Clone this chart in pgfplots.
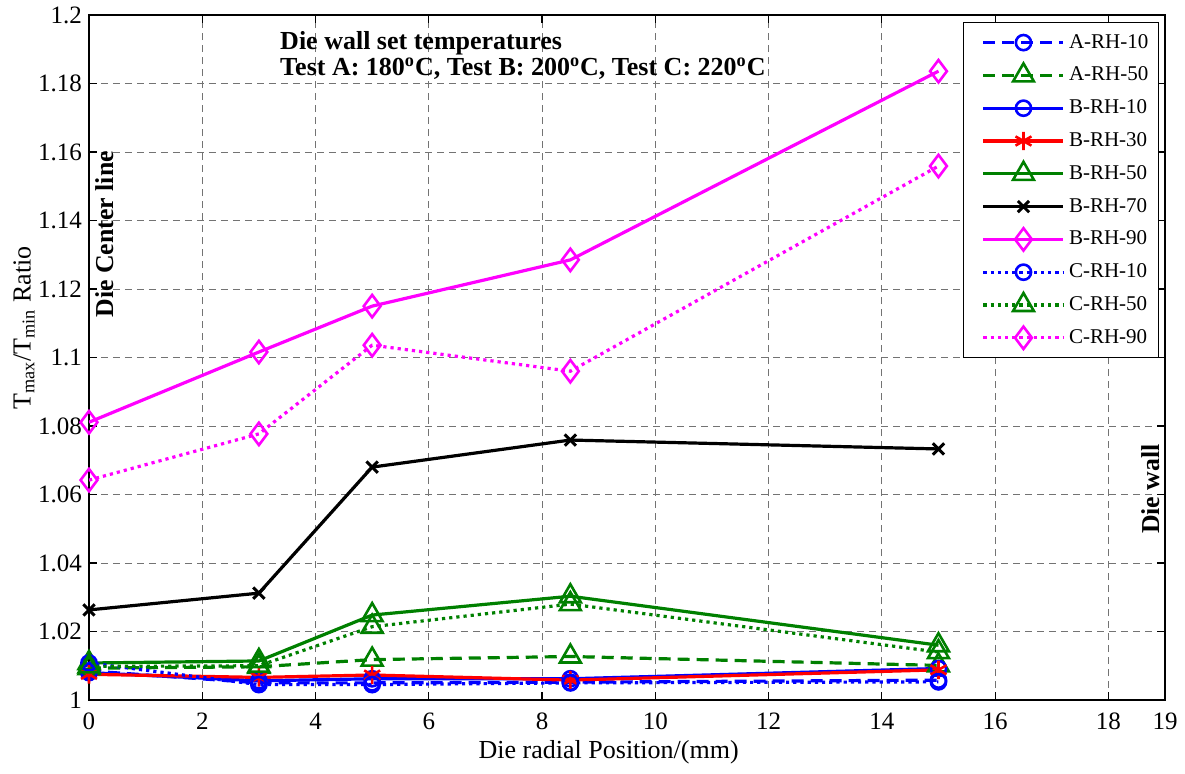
\documentclass[border=0pt]{standalone}
\usepackage{fontspec}
\setmainfont{Liberation Serif}
\usepackage{pgfplots}
\pgfplotsset{compat=1.18}
\definecolor{mgreen}{RGB}{0,128,0}
\definecolor{mblue}{RGB}{0,0,255}
\definecolor{mred}{RGB}{255,0,0}
\definecolor{mmag}{RGB}{255,0,255}
\begin{document}
\begin{tikzpicture}
\begin{axis}[
  scale only axis, width=538pt, height=342.5pt,
  at={(0,0)}, anchor=south west,
  xmin=0, xmax=19, ymin=1, ymax=1.2,
  xtick={0,2,4,6,8,10,12,14,16,18,19},
  ytick={1,1.02,1.04,1.06,1.08,1.1,1.12,1.14,1.16,1.18,1.2},
  grid=major,
  major grid style={dash pattern=on 3.5pt off 2.5pt, black!55, line width=0.5pt},
  tick align=inside, major tick length=4pt,
  axis line style={line width=0.8pt},
  tick style={black, line width=0.6pt},
  /pgf/number format/assume math mode=true,
  ticklabel style={font=\fontsize{12.5}{14}\selectfont},
  yticklabel style={/pgf/number format/fixed,/pgf/number format/precision=2},
  xticklabel style={yshift=-3pt},
  xlabel={Die radial Position/(mm)},
  ylabel={T\textsubscript{max}/T\textsubscript{min} Ratio},
  label style={font=\fontsize{13}{15}\selectfont},
  x label style={at={(axis description cs:0.483,0)}, yshift=-26pt, anchor=center},
  y label style={at={(axis description cs:-0.0604,0.543)}, anchor=center},
  every axis plot/.append style={line width=1.6pt},
  legend style={at={(1,1)}, anchor=north east, xshift=-3pt, yshift=-3.5pt,
    draw=black, line width=0.6pt, fill=white,
    font=\fontsize{10.5}{12}\selectfont,
    inner xsep=3pt, inner ysep=2.75pt, row sep=1.9pt,
    nodes={inner sep=2pt, text height=8pt, text depth=2.5pt},
    cells={anchor=west}},
  legend image code/.code={\path (-6pt,0pt); \draw[mark repeat=2,mark phase=2] plot coordinates {(0pt,0pt) (20pt,0pt) (40pt,0pt)};},
]
\addplot[mblue, dash pattern=on 6pt off 3.5pt, mark=o, mark size=3.8pt, mark options={solid, line width=1.3pt}]
  coordinates {(0,1.0085) (3,1.0050) (5,1.0050) (8.5,1.0052) (15,1.0058)};
\addlegendentry{A-RH-10}
\addplot[mgreen, dash pattern=on 6pt off 3.5pt, mark=triangle, mark size=6pt, mark options={solid, line width=1.3pt}]
  coordinates {(0,1.0093) (3,1.0097) (5,1.0118) (8.5,1.0127) (15,1.0101)};
\addlegendentry{A-RH-50}
\addplot[mblue, solid, mark=o, mark size=3.8pt, mark options={solid, line width=1.3pt}]
  coordinates {(0,1.0080) (3,1.0056) (5,1.0062) (8.5,1.0062) (15,1.0092)};
\addlegendentry{B-RH-10}
\addplot[mred, solid, mark=asterisk, mark size=4.6pt, mark options={solid, line width=1.3pt}]
  coordinates {(0,1.0075) (3,1.0066) (5,1.0073) (8.5,1.0058) (15,1.0088)};
\addlegendentry{B-RH-30}
\addplot[mgreen, solid, mark=triangle, mark size=6pt, mark options={solid, line width=1.3pt}]
  coordinates {(0,1.0108) (3,1.0114) (5,1.0248) (8.5,1.0303) (15,1.0160)};
\addlegendentry{B-RH-50}
\addplot[black, solid, mark=x, mark size=4pt, mark options={solid, line width=1.5pt}]
  coordinates {(0,1.0263) (3,1.0312) (5,1.0680) (8.5,1.0759) (15,1.0733)};
\addlegendentry{B-RH-70}
\addplot[mmag, solid, mark=diamond, mark size=5.6pt, mark options={solid, line width=1.3pt}]
  coordinates {(0,1.0811) (3,1.1016) (5,1.1150) (8.5,1.1285) (15,1.1836)};
\addlegendentry{B-RH-90}
\addplot[mblue, dash pattern=on 1.6pt off 2pt, mark=o, mark size=3.8pt, mark options={solid, line width=1.3pt}]
  coordinates {(0,1.0108) (3,1.0045) (5,1.0045) (8.5,1.0050) (15,1.0053)};
\addlegendentry{C-RH-10}
\addplot[mgreen, dash pattern=on 1.6pt off 2pt, mark=triangle, mark size=6pt, mark options={solid, line width=1.3pt}]
  coordinates {(0,1.0098) (3,1.0100) (5,1.0214) (8.5,1.0280) (15,1.0140)};
\addlegendentry{C-RH-50}
\addplot[mmag, dash pattern=on 1.6pt off 2pt, mark=diamond, mark size=5.6pt, mark options={solid, line width=1.3pt}]
  coordinates {(0,1.0642) (3,1.0777) (5,1.1036) (8.5,1.0960) (15,1.1559)};
\addlegendentry{C-RH-90}
\node[anchor=west, align=left, inner sep=0pt, font=\bfseries\fontsize{13}{13}\selectfont]
  at (axis cs:3.37,1.1882) {Die wall set temperatures\\Test A: 180\textsuperscript{o}C, Test B: 200\textsuperscript{o}C, Test C: 220\textsuperscript{o}C};
\node[rotate=90, inner sep=0pt, font=\bfseries\fontsize{12.9}{14}\selectfont] at (axis cs:0.28,1.136) {Die Center line};
\node[rotate=90, inner sep=0pt, font=\bfseries\fontsize{12.9}{14}\selectfont] at (axis cs:18.75,1.0616) {Die wall};
\end{axis}
\pgfresetboundingbox
\path[use as bounding box] (-44.5pt,-36.5pt) rectangle (548pt,350pt);
\end{tikzpicture}
\end{document}
